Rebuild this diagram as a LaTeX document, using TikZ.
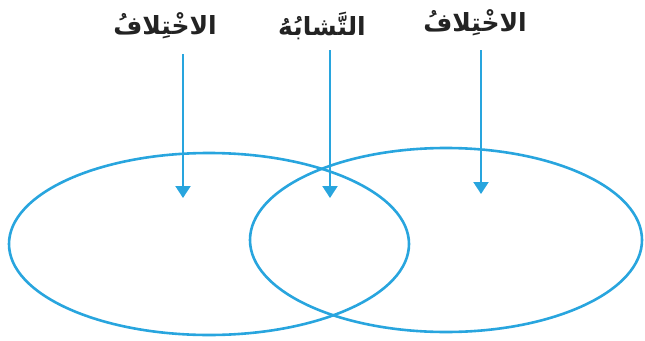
\documentclass[tikz,border=0pt]{standalone}
\usepackage{fontspec}
\usetikzlibrary{arrows.meta}
\TeXXeTstate=1
\newfontfamily\arabicfont[Script=Arabic]{DejaVu Sans}
\definecolor{vblue}{RGB}{40,165,222}
\definecolor{lbl}{RGB}{35,35,35}
\tikzset{
  venn/.style={draw=vblue,line width=2.6pt},
  pointer/.style={draw=vblue,line width=2.2pt,-{Triangle[width=15pt,length=12pt]},color=vblue},
  label/.style={font=\arabicfont\bfseries\fontsize{25}{28}\selectfont,text=lbl,inner sep=0pt}
}
\begin{document}
\begin{tikzpicture}[x=1pt,y=-1pt]
\useasboundingbox (0,0) rectangle (645,340);
\draw[venn] (209,244) ellipse [x radius=200,y radius=91];
\draw[venn] (446,240) ellipse [x radius=196,y radius=92];
\node[label] (l1) at (165,26) {\beginR الاخْتِلافُ\endR};
\node[label] (l2) at (322,26) {\beginR التَّشابُهُ\endR};
\node[label] (l3) at (475,23) {\beginR الاخْتِلافُ\endR};
\coordinate (t1) at (183,198);
\coordinate (t2) at (330,198);
\coordinate (t3) at (481,194);
\draw[pointer] (183,54) -- (t1);
\draw[pointer] (330,50) -- (t2);
\draw[pointer] (481,50) -- (t3);
\end{tikzpicture}
\end{document}
